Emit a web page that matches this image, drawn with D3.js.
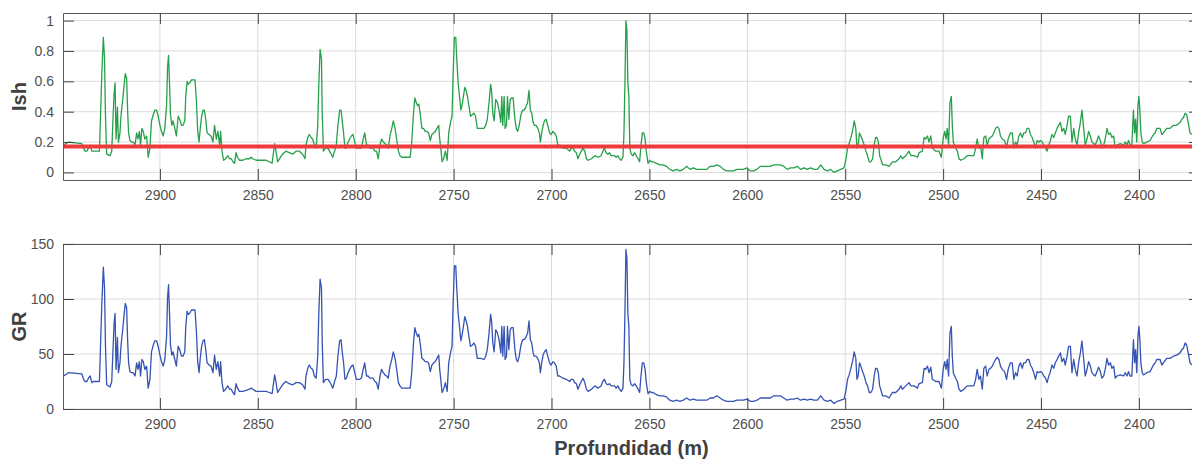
<!DOCTYPE html>
<html lang="es">
<head>
<meta charset="utf-8">
<title>Ish y GR vs profundidad</title>
<script src="https://cdnjs.cloudflare.com/ajax/libs/d3/7.8.5/d3.min.js"></script>
<style>
  body { margin: 0; background: #fff; }
  svg { display: block; font-family: "Liberation Sans", Arial, sans-serif; }
  .tick text { fill: #4f4f4f; font-size: 14px; }
  .axis-title { font-weight: bold; font-size: 20px; fill: #404040; }
</style>
</head>
<body>
<div id="chart"></div>
<script>
// depth (m)
var depth = [
  2949.2, 2946.7, 2939.9, 2939.0, 2938.2, 2937.3, 2936.5, 2935.6, 2934.8, 2933.9,
  2930.9, 2930.6, 2929.7, 2928.9, 2928.3, 2927.8, 2927.2, 2925.5, 2924.6, 2924.1,
  2923.4, 2922.9, 2922.4, 2921.7, 2921.2, 2920.4, 2919.9, 2919.0, 2918.4, 2917.7,
  2917.0, 2916.5, 2916.0, 2915.3, 2914.4, 2913.6, 2912.7, 2911.9, 2911.2, 2910.5,
  2909.9, 2909.2, 2908.5, 2907.7, 2906.8, 2906.0, 2905.1, 2904.3, 2903.4, 2902.6,
  2901.7, 2900.9, 2900.0, 2899.2, 2898.3, 2897.5, 2896.6, 2896.1, 2895.6, 2895.1,
  2894.6, 2893.9, 2893.3, 2892.4, 2891.6, 2890.7, 2889.9, 2889.0, 2888.2, 2887.3,
  2886.8, 2886.1, 2885.5, 2884.8, 2883.9, 2883.1, 2882.1, 2881.4, 2880.7, 2880.0,
  2879.4, 2878.7, 2878.0, 2877.3, 2876.6, 2875.9, 2874.9, 2873.9, 2872.9, 2872.1,
  2871.2, 2870.4, 2869.5, 2869.0, 2868.3, 2867.5, 2866.5, 2865.3, 2864.4, 2863.6,
  2862.7, 2861.9, 2861.1, 2860.4, 2859.4, 2857.7, 2856.0, 2854.3, 2853.4, 2852.6,
  2850.9, 2849.3, 2847.6, 2845.8, 2844.1, 2842.7, 2842.1, 2841.4, 2840.7, 2839.9,
  2837.4, 2835.7, 2834.0, 2832.2, 2830.5, 2828.8, 2827.1, 2825.9, 2825.4, 2824.5,
  2823.7, 2822.8, 2822.0, 2821.1, 2820.2, 2819.4, 2818.9, 2818.2, 2817.5, 2817.1,
  2816.5, 2815.4, 2814.2, 2813.4, 2812.5, 2811.7, 2810.8, 2809.9, 2809.1, 2808.2,
  2807.5, 2806.9, 2806.2, 2805.5, 2804.8, 2803.9, 2803.1, 2802.2, 2801.4, 2800.5,
  2799.7, 2797.9, 2797.1, 2796.2, 2795.4, 2794.5, 2793.7, 2792.8, 2791.9, 2791.1,
  2790.2, 2789.4, 2788.5, 2787.6, 2786.8, 2785.9, 2785.1, 2784.2, 2783.4, 2782.5,
  2781.6, 2780.8, 2779.9, 2779.1, 2778.2, 2777.4, 2776.5, 2774.8, 2772.2, 2771.4,
  2770.5, 2769.8, 2769.1, 2768.4, 2767.8, 2767.1, 2766.2, 2765.4, 2764.5, 2763.6,
  2762.8, 2761.9, 2761.1, 2760.2, 2759.4, 2758.5, 2757.6, 2757.1, 2756.4, 2755.9,
  2755.1, 2754.2, 2753.3, 2752.5, 2751.6, 2750.8, 2750.3, 2749.6, 2748.9, 2748.4,
  2747.7, 2747.0, 2746.3, 2745.6, 2745.0, 2744.3, 2743.6, 2742.9, 2742.2, 2741.4,
  2740.5, 2739.6, 2738.8, 2737.9, 2736.2, 2734.5, 2733.6, 2732.8, 2731.9, 2731.1,
  2730.5, 2730.0, 2729.3, 2728.5, 2727.6, 2726.8, 2725.9, 2725.4, 2724.9, 2724.2,
  2723.7, 2723.0, 2722.5, 2721.8, 2721.1, 2720.4, 2719.6, 2718.7, 2718.0, 2717.3,
  2716.5, 2715.6, 2714.8, 2713.9, 2713.1, 2712.2, 2711.5, 2710.8, 2710.1, 2709.4,
  2708.8, 2707.9, 2707.0, 2706.2, 2705.7, 2705.0, 2704.3, 2703.6, 2702.8, 2701.9,
  2701.0, 2700.2, 2699.3, 2698.5, 2697.6, 2696.8, 2695.9, 2694.2, 2692.5, 2690.7,
  2689.9, 2689.0, 2688.2, 2687.3, 2686.5, 2685.6, 2684.8, 2683.9, 2683.0, 2682.2,
  2681.3, 2679.6, 2677.9, 2676.2, 2674.7, 2673.8, 2673.0, 2672.1, 2671.2, 2670.4,
  2669.5, 2668.7, 2667.8, 2667.0, 2666.1, 2665.3, 2664.4, 2663.5, 2663.0, 2662.5,
  2662.0, 2661.5, 2661.0, 2660.5, 2660.0, 2659.3, 2658.4, 2657.6, 2656.7, 2655.8,
  2655.0, 2654.3, 2653.6, 2652.9, 2652.2, 2651.6, 2650.7, 2649.8, 2649.0, 2648.1,
  2646.4, 2644.7, 2643.0, 2641.3, 2639.6, 2637.9, 2636.2, 2634.4, 2632.7, 2631.0,
  2629.3, 2627.6, 2625.9, 2624.2, 2622.5, 2620.7, 2619.0, 2617.3, 2615.6, 2613.9,
  2612.2, 2610.5, 2608.8, 2607.0, 2605.3, 2603.6, 2601.9, 2600.2, 2598.5, 2596.8,
  2595.1, 2593.3, 2591.6, 2589.9, 2588.2, 2586.5, 2584.8, 2583.1, 2581.4, 2579.7,
  2577.9, 2576.2, 2574.5, 2572.8, 2571.1, 2569.4, 2567.7, 2566.0, 2564.2, 2562.5,
  2560.8, 2559.1, 2557.4, 2555.7, 2554.0, 2552.3, 2550.6, 2549.7, 2548.8, 2548.0,
  2547.1, 2546.3, 2545.4, 2544.6, 2544.0, 2543.4, 2542.7, 2542.0, 2541.1, 2540.3,
  2539.4, 2538.6, 2537.7, 2536.9, 2536.0, 2535.2, 2534.5, 2533.8, 2533.1, 2532.4,
  2530.9, 2529.3, 2527.6, 2525.9, 2524.2, 2522.5, 2521.6, 2520.8, 2519.1, 2517.4,
  2516.5, 2514.8, 2513.1, 2512.3, 2510.6, 2509.7, 2508.9, 2508.0, 2507.2, 2506.3,
  2505.5, 2503.8, 2502.1, 2500.9, 2499.9, 2499.2, 2498.5, 2497.9, 2497.2, 2496.5,
  2495.8, 2495.3, 2494.8, 2493.6, 2492.7, 2491.9, 2491.0, 2489.4, 2487.7, 2486.0,
  2484.3, 2483.4, 2482.6, 2481.7, 2480.9, 2480.0, 2479.2, 2478.3, 2477.5, 2476.6,
  2475.8, 2474.9, 2474.1, 2473.2, 2472.4, 2471.5, 2470.7, 2469.8, 2468.6, 2467.6,
  2466.8, 2465.6, 2464.7, 2463.9, 2463.0, 2462.2, 2461.3, 2460.5, 2459.6, 2458.8,
  2457.9, 2457.1, 2456.2, 2455.4, 2454.5, 2453.7, 2452.8, 2452.0, 2451.1, 2450.3,
  2449.4, 2448.6, 2447.7, 2446.9, 2446.0, 2445.2, 2444.4, 2443.5, 2442.7, 2441.8,
  2441.0, 2440.1, 2439.3, 2438.4, 2437.6, 2436.7, 2435.9, 2435.0, 2434.2, 2433.3,
  2432.5, 2431.6, 2430.8, 2429.9, 2429.1, 2428.2, 2427.4, 2426.5, 2425.7, 2424.8,
  2424.0, 2423.1, 2422.3, 2421.4, 2420.6, 2419.7, 2418.9, 2418.0, 2417.2, 2416.3,
  2415.5, 2414.6, 2413.8, 2412.9, 2412.1, 2411.2, 2409.5, 2407.8, 2407.0, 2406.1,
  2405.3, 2404.5, 2403.6, 2402.8, 2402.2, 2401.7, 2401.1, 2400.5, 2400.0, 2399.5,
  2399.0, 2398.3, 2397.7, 2396.0, 2394.3, 2392.6, 2391.7, 2390.9, 2389.2, 2388.3,
  2387.5, 2385.8, 2384.1, 2382.4, 2380.7, 2379.0, 2378.1, 2377.3, 2376.4, 2375.6,
  2374.7, 2373.9, 2372.9
];

// gamma ray (bottom panel)
var gr = [
  30, 33, 32, 27, 25, 25, 28, 30, 24, 25,
  25, 42, 94, 129, 110, 57, 22, 20, 25, 48,
  78, 87, 36, 65, 33, 42, 57, 72, 84, 96,
  92, 63, 42, 34, 33, 33, 30, 42, 36, 43,
  30, 45, 43, 36, 39, 19, 27, 52, 58, 62,
  62, 57, 49, 43, 39, 45, 66, 101, 113, 87,
  58, 49, 52, 45, 39, 57, 54, 48, 48, 52,
  75, 89, 86, 87, 90, 90, 90, 72, 43, 33,
  46, 57, 62, 63, 54, 42, 40, 39, 33, 49,
  36, 43, 30, 43, 24, 16, 18, 21, 18, 18,
  15, 13, 23, 19, 16, 16, 17, 18, 19, 18,
  16, 16, 16, 16, 15, 14, 22, 31, 24, 15,
  22, 25, 23, 22, 24, 24, 22, 18, 30, 37,
  40, 37, 36, 30, 28, 48, 84, 118, 110, 60,
  24, 27, 27, 25, 22, 19, 25, 30, 48, 62,
  63, 52, 42, 27, 28, 33, 36, 39, 40, 33,
  27, 27, 28, 36, 42, 30, 30, 28, 28, 28,
  25, 24, 18, 30, 36, 33, 31, 30, 28, 39,
  45, 52, 46, 36, 24, 21, 19, 19, 19, 33,
  60, 74, 69, 66, 68, 60, 46, 45, 43, 43,
  42, 34, 40, 42, 43, 46, 49, 36, 24, 15,
  18, 24, 16, 42, 51, 57, 93, 130, 130, 110,
  87, 75, 62, 68, 75, 84, 80, 75, 66, 57,
  58, 60, 57, 46, 46, 45, 48, 54, 69, 86,
  78, 60, 52, 72, 69, 63, 51, 75, 48, 75,
  45, 48, 75, 54, 72, 74, 74, 54, 45, 43,
  48, 58, 63, 63, 65, 69, 80, 63, 60, 51,
  48, 48, 46, 42, 33, 42, 49, 52, 54, 48,
  42, 40, 43, 42, 39, 30, 30, 28, 27, 25,
  27, 27, 24, 23, 18, 22, 25, 28, 24, 18,
  16, 18, 21, 19, 21, 25, 27, 23, 22, 23,
  21, 21, 21, 19, 21, 18, 16, 19, 42, 87,
  145, 137, 87, 75, 27, 22, 21, 23, 21, 18,
  15, 30, 42, 42, 36, 24, 14, 16, 15, 15,
  13, 12, 12, 11, 8, 7, 8, 7, 8, 10,
  8, 9, 8, 8, 8, 8, 10, 10, 12, 10,
  8, 7, 7, 7, 8, 8, 8, 9, 7, 7,
  8, 10, 10, 10, 10, 12, 12, 12, 10, 8,
  9, 9, 10, 8, 9, 8, 9, 8, 8, 12,
  8, 7, 8, 5, 7, 8, 9, 16, 27, 31,
  37, 43, 52, 46, 27, 30, 42, 39, 34, 30,
  24, 21, 15, 15, 18, 30, 37, 37, 33, 21,
  12, 12, 10, 15, 15, 18, 21, 18, 21, 24,
  21, 21, 19, 23, 24, 37, 36, 39, 33, 38,
  27, 25, 25, 19, 37, 43, 36, 45, 30, 69,
  75, 48, 33, 28, 25, 18, 16, 18, 21, 21,
  21, 27, 36, 27, 30, 18, 37, 39, 30, 36,
  37, 39, 42, 45, 47, 45, 39, 36, 34, 27,
  36, 42, 42, 27, 33, 30, 39, 42, 37, 42,
  42, 45, 45, 40, 37, 33, 27, 34, 33, 34,
  33, 30, 28, 24, 30, 34, 40, 37, 42, 45,
  48, 51, 43, 46, 40, 48, 57, 57, 33, 45,
  36, 30, 42, 51, 62, 45, 30, 36, 43, 39,
  33, 31, 30, 34, 38, 34, 28, 30, 36, 46,
  40, 42, 37, 39, 28, 30, 31, 30, 33, 30,
  34, 30, 30, 63, 42, 54, 33, 66, 75, 63,
  42, 33, 31, 33, 34, 40, 42, 45, 45, 40,
  42, 46, 46, 48, 49, 51, 54, 55, 60, 58,
  50, 42, 40
];

// shale index (top panel)
var ish = [
  0.18, 0.20, 0.19, 0.16, 0.14, 0.14, 0.16, 0.18, 0.14, 0.14,
  0.14, 0.26, 0.64, 0.89, 0.75, 0.37, 0.12, 0.11, 0.14, 0.31,
  0.52, 0.59, 0.22, 0.43, 0.20, 0.26, 0.37, 0.48, 0.56, 0.65,
  0.62, 0.41, 0.26, 0.21, 0.20, 0.20, 0.18, 0.26, 0.22, 0.27,
  0.18, 0.29, 0.27, 0.22, 0.24, 0.10, 0.16, 0.34, 0.38, 0.41,
  0.41, 0.37, 0.31, 0.27, 0.24, 0.29, 0.44, 0.69, 0.77, 0.59,
  0.38, 0.31, 0.34, 0.29, 0.24, 0.37, 0.35, 0.31, 0.31, 0.34,
  0.50, 0.60, 0.58, 0.59, 0.61, 0.61, 0.61, 0.48, 0.27, 0.20,
  0.29, 0.37, 0.41, 0.41, 0.35, 0.26, 0.25, 0.24, 0.20, 0.31,
  0.22, 0.27, 0.18, 0.27, 0.14, 0.08, 0.09, 0.11, 0.09, 0.09,
  0.07, 0.06, 0.13, 0.10, 0.08, 0.08, 0.09, 0.09, 0.10, 0.09,
  0.08, 0.08, 0.08, 0.08, 0.07, 0.06, 0.12, 0.19, 0.14, 0.07,
  0.12, 0.14, 0.13, 0.12, 0.14, 0.14, 0.12, 0.09, 0.18, 0.23,
  0.25, 0.23, 0.22, 0.18, 0.16, 0.31, 0.56, 0.81, 0.75, 0.39,
  0.14, 0.16, 0.16, 0.14, 0.12, 0.10, 0.14, 0.18, 0.31, 0.41,
  0.41, 0.34, 0.26, 0.16, 0.16, 0.20, 0.22, 0.24, 0.25, 0.20,
  0.16, 0.16, 0.16, 0.22, 0.26, 0.18, 0.18, 0.16, 0.16, 0.16,
  0.14, 0.14, 0.09, 0.18, 0.22, 0.20, 0.19, 0.18, 0.16, 0.24,
  0.29, 0.34, 0.29, 0.22, 0.14, 0.11, 0.10, 0.10, 0.10, 0.20,
  0.39, 0.49, 0.46, 0.44, 0.45, 0.39, 0.29, 0.29, 0.27, 0.27,
  0.26, 0.21, 0.25, 0.26, 0.27, 0.29, 0.31, 0.22, 0.14, 0.07,
  0.09, 0.14, 0.08, 0.26, 0.33, 0.37, 0.63, 0.89, 0.89, 0.75,
  0.59, 0.50, 0.41, 0.45, 0.50, 0.56, 0.54, 0.50, 0.44, 0.37,
  0.38, 0.39, 0.37, 0.29, 0.29, 0.29, 0.31, 0.35, 0.46, 0.58,
  0.52, 0.39, 0.34, 0.48, 0.46, 0.41, 0.33, 0.50, 0.31, 0.50,
  0.29, 0.31, 0.50, 0.35, 0.48, 0.49, 0.49, 0.35, 0.29, 0.27,
  0.31, 0.38, 0.41, 0.41, 0.43, 0.46, 0.54, 0.41, 0.39, 0.33,
  0.31, 0.31, 0.29, 0.26, 0.20, 0.26, 0.31, 0.34, 0.35, 0.31,
  0.26, 0.25, 0.27, 0.26, 0.24, 0.18, 0.18, 0.16, 0.16, 0.14,
  0.16, 0.16, 0.14, 0.13, 0.09, 0.12, 0.14, 0.16, 0.14, 0.09,
  0.08, 0.09, 0.11, 0.10, 0.11, 0.14, 0.16, 0.13, 0.12, 0.13,
  0.11, 0.11, 0.11, 0.10, 0.11, 0.09, 0.08, 0.10, 0.26, 0.59,
  1.00, 0.94, 0.59, 0.50, 0.16, 0.12, 0.11, 0.13, 0.11, 0.09,
  0.07, 0.18, 0.26, 0.26, 0.22, 0.14, 0.06, 0.08, 0.07, 0.07,
  0.06, 0.05, 0.05, 0.04, 0.02, 0.01, 0.02, 0.01, 0.02, 0.04,
  0.02, 0.03, 0.02, 0.02, 0.02, 0.02, 0.04, 0.04, 0.05, 0.04,
  0.02, 0.01, 0.01, 0.01, 0.02, 0.02, 0.02, 0.03, 0.01, 0.01,
  0.02, 0.04, 0.04, 0.04, 0.04, 0.05, 0.05, 0.05, 0.04, 0.02,
  0.03, 0.03, 0.04, 0.02, 0.03, 0.02, 0.03, 0.02, 0.02, 0.05,
  0.02, 0.01, 0.02, 0.00, 0.01, 0.02, 0.03, 0.08, 0.16, 0.19,
  0.23, 0.27, 0.34, 0.29, 0.16, 0.18, 0.26, 0.24, 0.21, 0.18,
  0.14, 0.11, 0.07, 0.07, 0.09, 0.18, 0.23, 0.23, 0.20, 0.11,
  0.05, 0.05, 0.04, 0.07, 0.07, 0.09, 0.11, 0.09, 0.11, 0.14,
  0.11, 0.11, 0.10, 0.13, 0.14, 0.23, 0.22, 0.24, 0.20, 0.24,
  0.16, 0.14, 0.14, 0.10, 0.23, 0.27, 0.22, 0.29, 0.18, 0.46,
  0.50, 0.31, 0.20, 0.16, 0.14, 0.09, 0.08, 0.09, 0.11, 0.11,
  0.11, 0.16, 0.22, 0.16, 0.18, 0.09, 0.23, 0.24, 0.18, 0.22,
  0.23, 0.24, 0.26, 0.29, 0.30, 0.29, 0.24, 0.22, 0.21, 0.16,
  0.22, 0.26, 0.26, 0.16, 0.20, 0.18, 0.24, 0.26, 0.23, 0.26,
  0.26, 0.29, 0.29, 0.25, 0.23, 0.20, 0.16, 0.21, 0.20, 0.21,
  0.20, 0.18, 0.16, 0.14, 0.18, 0.21, 0.25, 0.23, 0.26, 0.29,
  0.31, 0.33, 0.27, 0.29, 0.25, 0.31, 0.37, 0.37, 0.20, 0.29,
  0.22, 0.18, 0.26, 0.33, 0.41, 0.29, 0.18, 0.22, 0.27, 0.24,
  0.20, 0.19, 0.18, 0.21, 0.24, 0.21, 0.16, 0.18, 0.22, 0.29,
  0.25, 0.26, 0.23, 0.24, 0.16, 0.18, 0.19, 0.18, 0.20, 0.18,
  0.21, 0.18, 0.18, 0.41, 0.26, 0.35, 0.20, 0.44, 0.50, 0.41,
  0.26, 0.20, 0.19, 0.20, 0.21, 0.25, 0.26, 0.29, 0.29, 0.25,
  0.26, 0.29, 0.29, 0.31, 0.31, 0.33, 0.35, 0.36, 0.39, 0.38,
  0.32, 0.26, 0.25
];

var ishCutoff = 0.17;
var depthTicks = [2900, 2850, 2800, 2750, 2700, 2650, 2600, 2550, 2500, 2450, 2400];
var ishTicks = [0, 0.2, 0.4, 0.6, 0.8, 1];
var grTicks = [0, 50, 100, 150];

var W = 1192, H = 459;
var left = 63, right = 1200, tickLen = 11;

var svg = d3.select("#chart").append("svg")
    .attr("width", W)
    .attr("height", H);

// depth increases to the left
var x = d3.scaleLinear().domain([2949.5, 2368.8]).range([left, right]);

var rows = d3.range(depth.length);

function drawPanel(cfg) {
    var y = d3.scaleLinear().domain(cfg.domain).range([cfg.bottom, cfg.top]);
    var g = svg.append("g");

    g.append("clipPath").attr("id", cfg.id)
        .append("rect")
        .attr("x", left).attr("y", cfg.top)
        .attr("width", right - left).attr("height", cfg.bottom - cfg.top);

    // grid
    g.append("g").selectAll("line").data(depthTicks).join("line")
        .attr("x1", function (d) { return x(d); }).attr("x2", function (d) { return x(d); })
        .attr("y1", cfg.top).attr("y2", cfg.bottom)
        .attr("stroke", "#dcdcdc");
    g.append("g").selectAll("line").data(cfg.ticks).join("line")
        .attr("x1", left).attr("x2", right)
        .attr("y1", function (d) { return y(d); }).attr("y2", function (d) { return y(d); })
        .attr("stroke", "#dcdcdc");

    // data line
    var line = d3.line()
        .x(function (i) { return x(depth[i]); })
        .y(function (i) { return y(cfg.values[i]); });

    g.append("path")
        .attr("clip-path", "url(#" + cfg.id + ")")
        .attr("d", line(rows))
        .attr("fill", "none")
        .attr("stroke", cfg.color)
        .attr("stroke-width", 1.3)
        .attr("stroke-linejoin", "round");

    if (cfg.cutoff !== undefined) {
        g.append("line")
            .attr("x1", left).attr("x2", right)
            .attr("y1", y(cfg.cutoff)).attr("y2", y(cfg.cutoff))
            .attr("stroke", "#ee3a3c")
            .attr("stroke-width", 4);
    }

    // axes, ticks pointing inward on all four sides
    var xb = d3.axisBottom(x).tickValues(depthTicks).tickSizeInner(-tickLen).tickSizeOuter(0)
        .tickPadding(10).tickFormat(d3.format("d"));
    var xt = d3.axisTop(x).tickValues(depthTicks).tickSizeInner(-tickLen).tickSizeOuter(0).tickFormat("");
    var yl = d3.axisLeft(y).tickValues(cfg.ticks).tickSizeInner(-tickLen).tickSizeOuter(0)
        .tickPadding(9).tickFormat(cfg.format);
    var yr = d3.axisRight(y).tickValues(cfg.ticks).tickSizeInner(-tickLen).tickSizeOuter(0).tickFormat("");

    var axes = [
        g.append("g").attr("transform", "translate(0," + cfg.bottom + ")").call(xb),
        g.append("g").attr("transform", "translate(0," + cfg.top + ")").call(xt),
        g.append("g").attr("transform", "translate(" + left + ",0)").call(yl),
        g.append("g").attr("transform", "translate(" + right + ",0)").call(yr)
    ];
    axes.forEach(function (a) {
        a.select(".domain").attr("stroke", "#5a5a5a");
        a.selectAll(".tick line").attr("stroke", "#444");
        a.selectAll(".tick text").attr("font-family", null).attr("font-size", null).attr("fill", null);
    });

    svg.append("text")
        .attr("class", "axis-title")
        .attr("transform", "translate(26," + ((cfg.top + cfg.bottom) / 2) + ") rotate(-90)")
        .attr("text-anchor", "middle")
        .text(cfg.label);
}

drawPanel({
    id: "clip-ish", top: 13, bottom: 180, domain: [-0.05, 1.05],
    ticks: ishTicks, values: ish, color: "#27a04b", label: "Ish",
    cutoff: ishCutoff, format: d3.format("~g")
});

drawPanel({
    id: "clip-gr", top: 244, bottom: 409, domain: [0, 150],
    ticks: grTicks, values: gr, color: "#3553b3", label: "GR",
    format: d3.format("d")
});

svg.append("text")
    .attr("class", "axis-title")
    .attr("x", (left + right) / 2)
    .attr("y", 455)
    .attr("text-anchor", "middle")
    .text("Profundidad (m)");
</script>
</body>
</html>
